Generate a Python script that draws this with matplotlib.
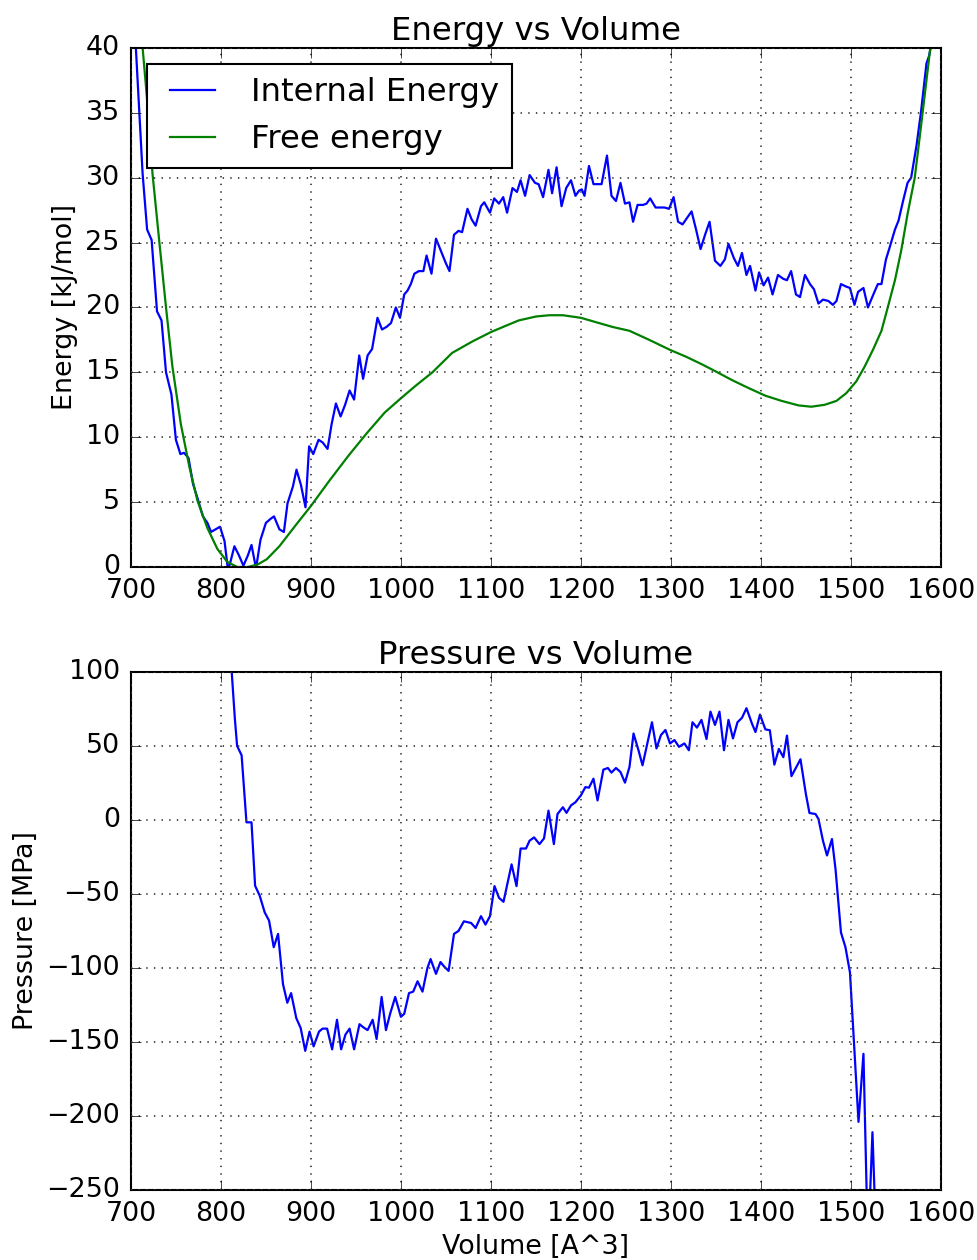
import matplotlib
matplotlib.use("Agg")
import matplotlib.pyplot as plt

# ---------------- data ----------------
vol_internal = [700, 705.5, 713, 718, 723, 729, 734, 739, 745, 750, 755, 759, 764, 769, 774,
                780, 785, 789, 794, 799, 804, 808, 815, 820, 825, 830, 834, 839, 844, 850,
                855, 859, 865, 870, 874, 880, 884, 889, 894, 898,
                902.6, 908.5, 913, 918.5, 923, 927.8, 933, 938, 943, 948, 953.7, 958, 963, 968,
                974, 979, 984, 989, 994.4, 999, 1003.7, 1007.4, 1011, 1015, 1020, 1025, 1028.5,
                1034, 1039, 1046, 1050, 1054, 1059, 1064, 1068, 1074, 1078.5, 1083, 1089,
                1092.6, 1099, 1103.7, 1109, 1113.7, 1118, 1124, 1129, 1133, 1138, 1143, 1149,
                1153, 1158, 1164, 1168, 1173, 1178.5, 1183.7, 1189, 1194, 1198, 1201, 1204,
                1209, 1214, 1218, 1223, 1229, 1234, 1239, 1244, 1249, 1254, 1258, 1263, 1269,
                1273, 1277, 1283, 1288, 1293, 1298, 1303, 1308, 1313, 1318, 1323, 1328, 1333,
                1338, 1343, 1349, 1355, 1360, 1364, 1370, 1374.5, 1379, 1384, 1388, 1394, 1398,
                1403, 1408, 1413, 1419, 1425, 1429, 1433.6, 1439, 1443.5, 1449, 1454.6, 1459,
                1464, 1469, 1475, 1480, 1484, 1489, 1495, 1499, 1504, 1508, 1514, 1519, 1525,
                1530, 1534, 1539, 1543, 1549, 1553, 1558, 1563, 1567, 1573, 1578, 1584, 1587,
                1590, 1595]
internal_energy = [44, 40, 30.3, 26, 25.2, 19.7, 19, 15, 13.3, 9.8, 8.7, 8.8, 8.4, 6.4, 5.3,
                   3.9, 3.4, 2.7, 2.9, 3.1, 2.0, -0.3, 1.6, 0.9, 0.1, 0.9, 1.7, -0.1, 2.1, 3.4,
                   3.7, 3.9, 2.9, 2.7, 4.9, 6.2, 7.5, 6.3, 4.6, 9.3,
                   8.7, 9.8, 9.6, 9.1, 11.0, 12.6, 11.6, 12.5, 13.6, 12.9, 16.3, 14.5, 16.3, 16.8,
                   19.2, 18.3, 18.5, 18.8, 20.0, 19.2, 21.0, 21.3, 21.8, 22.6, 22.8, 22.8, 24.0,
                   22.6, 25.3, 24.1, 23.4, 22.8, 25.6, 25.9, 25.8, 27.6, 26.8, 26.3, 27.8,
                   28.1, 27.3, 28.4, 28.0, 28.5, 27.3, 29.2, 28.9, 29.8, 28.6, 30.2, 29.6,
                   29.5, 28.5, 30.6, 28.8, 30.8, 27.8, 29.2, 29.8, 28.6, 29.0, 29.1, 28.6,
                   30.9, 29.5, 29.5, 29.5, 31.7, 28.6, 28.2, 29.6, 28.0, 28.1, 26.6, 27.9, 27.9,
                   28.0, 28.4, 27.7, 27.7, 27.7, 27.6, 28.5, 26.6, 26.4, 26.9, 27.4, 26.0, 24.5,
                   25.6, 26.6, 23.6, 23.2, 23.7, 24.9, 23.8, 23.2, 24.2, 22.5, 23.2, 21.3, 22.7,
                   21.7, 22.3, 21.0, 22.5, 22.2, 22.1, 22.8, 21.0, 20.8, 22.5, 21.8, 21.4,
                   20.3, 20.6, 20.5, 20.2, 20.5, 21.8, 21.6, 21.5, 20.2, 21.2, 21.5, 20.0, 21.0,
                   21.8, 21.8, 23.7, 24.6, 26.0, 26.7, 28.2, 29.6, 30.0, 32.5, 35.1, 38.8, 39.4,
                   40.5, 43]

vol_free = [700, 706, 713, 718.5, 724, 731.5, 739, 746, 755.5, 765, 774, 785, 796, 807, 818,
            830, 841, 851, 865, 884, 900, 920, 942, 962, 982, 1000, 1017, 1035, 1057, 1080,
            1100, 1117, 1131, 1150, 1165, 1180, 1200, 1220, 1235, 1254, 1276, 1300, 1317,
            1335, 1349, 1368, 1386, 1405, 1423, 1442, 1456, 1471, 1484, 1495, 1506, 1515,
            1525, 1534, 1541, 1549, 1556, 1563, 1571, 1578, 1584, 1590]
free_energy = [50, 45, 40, 35.6, 30.3, 25.1, 20, 15.5, 11, 7.7, 5.1, 3.0, 1.4, 0.4, 0.0,
               0.0, 0.2, 0.6, 1.6, 3.3, 4.7, 6.6, 8.6, 10.3, 11.9, 13.0, 14.0, 15.0, 16.5, 17.4,
               18.1, 18.6, 19.0, 19.3, 19.4, 19.4, 19.2, 18.8, 18.5, 18.2, 17.5, 16.7, 16.2,
               15.6, 15.1, 14.4, 13.8, 13.2, 12.8, 12.45, 12.35, 12.5, 12.8, 13.4, 14.3, 15.4,
               16.8, 18.2, 20.0, 22.1, 24.4, 27.2, 30.0, 34.0, 37.5, 41]

vol_pressure = [800, 806, 812, 815.5, 818, 823, 828.4, 834, 838, 843, 848.7, 853.5, 858.7,
                863.5, 869, 873.8, 878, 883.8, 888.6, 893.7, 898.5, 903, 909, 913, 918, 923.6,
                929, 933.6, 938.4, 943, 948, 954, 958, 963, 968.6, 973, 978.6, 983.4, 988,
                993.7, 1000, 1003.7, 1009, 1013.7, 1018.5, 1024, 1029.5, 1033, 1039, 1044,
                1048, 1053, 1059, 1064, 1070, 1078, 1083, 1089, 1094, 1099, 1104, 1109, 1114,
                1123, 1128.5, 1133, 1139, 1143, 1148, 1154, 1159, 1164, 1170, 1174, 1180,
                1184, 1189, 1194, 1200, 1205, 1209, 1214, 1218.5, 1225, 1230, 1234, 1239,
                1244, 1249, 1254, 1258.5, 1264, 1268.5, 1273, 1279, 1284, 1289, 1294, 1299,
                1304, 1309, 1315, 1320, 1324, 1329, 1334, 1339.6, 1344, 1349, 1354, 1359,
                1364, 1369, 1374, 1379, 1384, 1390, 1394, 1399, 1405, 1410, 1415, 1420, 1425,
                1429, 1434, 1444, 1450, 1454, 1460.7, 1464, 1469, 1473.5, 1479, 1483, 1489,
                1494, 1499, 1503, 1508.5, 1514, 1519, 1524, 1529]
pressure = [135, 115, 100, 68.4, 50, 43.7, -1.6, -1.6, -44.5, -51, -62.5, -68, -86,
            -77, -111, -123.5, -117, -134, -140.5, -156, -143, -153, -143, -141, -141, -155,
            -135, -155, -145, -141, -155, -138, -140, -142, -135, -148, -119.6, -142, -131,
            -119.6, -133, -131, -117, -116, -109, -116, -100, -94, -104, -96,
            -99, -102, -77, -75, -68.5, -69.6, -73, -65, -70.7, -65, -44.7, -52.6, -55.3,
            -30, -44.7, -19.3, -19.3, -14, -11.8, -16.3, -12.5, 6.3, -16.3, 4, 8.6,
            4.8, 9.8, 12, 16.6, 22.2, 21.8, 27.9, 13.2, 34, 35.1, 32, 35.1,
            32.4, 25.2, 35.8, 58.4, 47.1, 36.9, 49.4, 66, 48.3, 57.4, 60.8, 51.7,
            54, 49.4, 51.7, 47.1, 66, 62.4, 67.6, 54.7, 73.2, 64.2, 73.2, 47.1,
            67.6, 55.1, 66, 69, 75.5, 65.3, 59.4, 71.2, 61.2, 60.6, 37.4, 48, 42.4,
            57, 29.6, 41, 17.6, 4.7, 4, 0.7, -14, -24, -12.9, -33.5, -76,
            -86, -103, -146, -204, -158, -290, -211, -300]

# ---------------- style ----------------
plt.style.use('classic')
base = 19.4
plt.rcParams.update({
    'font.family': ['DejaVu Sans'],
    'font.size': base,
    'figure.facecolor': 'white',
    'savefig.facecolor': 'white',
    'lines.linewidth': 1.6,
    'axes.linewidth': 1.5,
    'xtick.major.size': 7,
    'ytick.major.size': 7,
    'xtick.major.pad': 8,
    'ytick.major.pad': 8,
})

grid_kw = dict(color='0.25', linestyle=(0, (1, 4.5)), linewidth=1.3)

fig = plt.figure(figsize=(9.77, 12.6), dpi=100)
ax1 = fig.add_axes([0.134, 0.55, 0.829, 0.412])
ax2 = fig.add_axes([0.134, 0.0556, 0.829, 0.4111])

ax1.plot(vol_internal, internal_energy, color='b', label='Internal Energy')
ax1.plot(vol_free, free_energy, color='g', label='Free energy')
ax1.set_xlim(700, 1600)
ax1.set_ylim(0, 40)
ax1.set_title('Energy vs Volume', fontsize=base * 1.2, pad=6)
ax1.set_ylabel('Energy [kJ/mol]')
ax1.grid(True, **grid_kw)
leg = ax1.legend(loc='upper left', fontsize=base * 1.2, frameon=True)
leg.get_frame().set_linewidth(1.5)

ax2.plot(vol_pressure, pressure, color='b')
ax2.set_xlim(700, 1600)
ax2.set_ylim(-250, 100)
ax2.set_title('Pressure vs Volume', fontsize=base * 1.2, pad=6)
ax2.set_ylabel('Pressure [MPa]')
ax2.set_xlabel('Volume [A^3]')
ax2.grid(True, **grid_kw)

fig.savefig('out.png', dpi=100)
